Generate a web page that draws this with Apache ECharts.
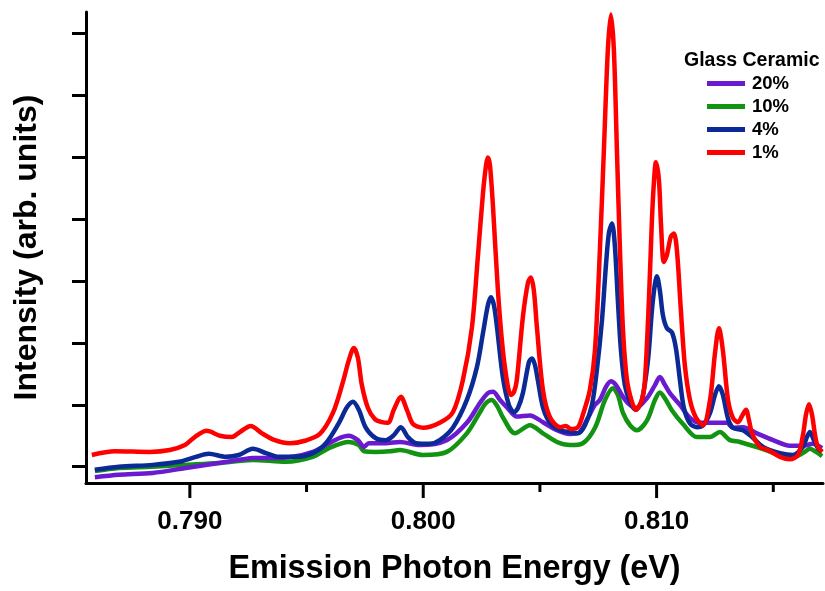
<!DOCTYPE html>
<html>
<head>
<meta charset="utf-8">
<script src="https://cdn.jsdelivr.net/npm/echarts@6/dist/echarts.min.js"></script>
<style>html,body{margin:0;padding:0;background:#fff}#chart{width:825px;height:591px}</style>
</head>
<body>
<div id="chart"></div>
<script>
// Tick labels / tick positions
var majorTicks = [0.790, 0.800, 0.810];
var minorTicks = [0.795, 0.805, 0.815];
var yTicks = [0, 1, 2, 3, 4, 5, 6, 7];

// 1% series (red)
var redE = [0.78580,0.78679,0.78829,0.78914,0.78979,0.79021,0.79073,0.79129,0.79180,0.79214,0.79261,0.79309,0.79364,0.79429,0.79493,0.79557,0.79613,0.79656,0.79681,0.79703,0.79720,0.79737,0.79763,0.79793,0.79823,0.79849,0.79874,0.79904,0.79930,0.79956,0.79999,0.80071,0.80127,0.80170,0.80209,0.80234,0.80256,0.80269,0.80277,0.80286,0.80299,0.80320,0.80341,0.80363,0.80376,0.80389,0.80401,0.80427,0.80449,0.80461,0.80474,0.80487,0.80513,0.80543,0.80586,0.80611,0.80633,0.80663,0.80684,0.80714,0.80736,0.80757,0.80774,0.80791,0.80804,0.80817,0.80830,0.80843,0.80856,0.80873,0.80894,0.80911,0.80937,0.80950,0.80967,0.80980,0.80989,0.80997,0.81010,0.81019,0.81031,0.81044,0.81061,0.81074,0.81087,0.81104,0.81121,0.81143,0.81169,0.81199,0.81229,0.81250,0.81267,0.81284,0.81306,0.81327,0.81349,0.81366,0.81383,0.81396,0.81409,0.81443,0.81477,0.81529,0.81571,0.81606,0.81627,0.81640,0.81653,0.81666,0.81679,0.81691,0.81709];
var redI = [0.19,0.25,0.24,0.27,0.35,0.48,0.58,0.50,0.48,0.56,0.66,0.54,0.43,0.38,0.42,0.53,0.87,1.37,1.72,1.92,1.76,1.32,0.95,0.77,0.72,0.71,0.92,1.13,0.92,0.69,0.63,0.71,0.88,1.40,2.26,3.39,4.42,4.87,5.00,4.87,4.20,2.85,1.89,1.29,1.16,1.21,1.40,2.42,2.98,3.06,2.85,2.26,1.24,0.80,0.64,0.66,0.61,0.64,0.84,1.24,1.89,3.50,5.11,6.73,7.31,6.73,5.11,3.50,2.21,1.40,1.05,0.92,1.08,1.40,2.69,3.99,4.63,4.92,4.63,3.90,3.31,3.42,3.72,3.77,3.50,2.53,1.64,1.08,0.79,0.67,1.08,1.83,2.24,1.88,1.08,0.79,0.72,0.82,0.92,0.75,0.54,0.32,0.27,0.16,0.12,0.19,0.51,0.84,1.01,0.84,0.51,0.32,0.24];

// 4% series (blue)
var blueE = [0.78593,0.78696,0.78841,0.78953,0.79026,0.79081,0.79154,0.79210,0.79270,0.79326,0.79381,0.79454,0.79527,0.79583,0.79639,0.79673,0.79699,0.79724,0.79754,0.79797,0.79840,0.79874,0.79904,0.79934,0.79969,0.80029,0.80071,0.80127,0.80187,0.80230,0.80256,0.80277,0.80290,0.80303,0.80316,0.80341,0.80367,0.80389,0.80406,0.80427,0.80453,0.80466,0.80479,0.80491,0.80513,0.80543,0.80586,0.80629,0.80663,0.80693,0.80723,0.80744,0.80766,0.80783,0.80796,0.80809,0.80821,0.80834,0.80847,0.80864,0.80886,0.80911,0.80937,0.80963,0.80980,0.80993,0.81001,0.81014,0.81027,0.81044,0.81066,0.81083,0.81100,0.81117,0.81143,0.81173,0.81199,0.81229,0.81250,0.81267,0.81284,0.81306,0.81327,0.81370,0.81409,0.81456,0.81529,0.81584,0.81627,0.81644,0.81657,0.81674,0.81691,0.81709];
var blueI = [-0.05,0.00,0.03,0.08,0.16,0.21,0.16,0.19,0.29,0.22,0.16,0.16,0.22,0.38,0.71,0.96,1.05,0.92,0.63,0.46,0.43,0.51,0.64,0.48,0.38,0.37,0.43,0.63,1.08,1.61,2.16,2.61,2.74,2.61,2.26,1.45,1.00,0.88,0.95,1.19,1.69,1.75,1.64,1.40,0.96,0.71,0.59,0.56,0.54,0.67,1.00,1.56,2.37,3.26,3.79,3.93,3.58,2.69,1.89,1.32,1.05,0.92,1.08,1.72,2.53,2.96,3.08,2.85,2.45,2.24,2.17,1.91,1.40,0.95,0.70,0.64,0.67,0.87,1.16,1.30,1.16,0.78,0.63,0.59,0.48,0.32,0.22,0.19,0.32,0.48,0.56,0.43,0.30,0.24];

// 20% series (purple)
var purpleE = [0.78593,0.78696,0.78841,0.78983,0.79124,0.79227,0.79270,0.79356,0.79441,0.79527,0.79583,0.79639,0.79681,0.79720,0.79746,0.79767,0.79840,0.79900,0.79986,0.80101,0.80187,0.80243,0.80277,0.80299,0.80329,0.80359,0.80401,0.80457,0.80513,0.80573,0.80629,0.80671,0.80706,0.80736,0.80757,0.80783,0.80804,0.80826,0.80851,0.80877,0.80911,0.80959,0.80993,0.81014,0.81036,0.81057,0.81100,0.81143,0.81186,0.81241,0.81301,0.81327,0.81370,0.81430,0.81499,0.81571,0.81627,0.81670,0.81709];
var purpleI = [-0.17,-0.13,-0.10,-0.02,0.06,0.12,0.14,0.14,0.16,0.24,0.35,0.46,0.50,0.43,0.32,0.38,0.38,0.40,0.35,0.43,0.71,1.03,1.19,1.21,1.08,0.96,0.81,0.83,0.72,0.59,0.53,0.56,0.79,1.00,1.08,1.29,1.38,1.32,1.16,1.03,0.95,1.11,1.32,1.45,1.32,1.19,1.00,0.79,0.71,0.71,0.71,0.63,0.64,0.54,0.43,0.34,0.34,0.37,0.30];

// 10% series (green)
var greenE = [0.78593,0.78696,0.78841,0.78983,0.79124,0.79270,0.79411,0.79527,0.79596,0.79681,0.79724,0.79746,0.79797,0.79857,0.79900,0.79999,0.80101,0.80187,0.80243,0.80269,0.80294,0.80320,0.80341,0.80393,0.80457,0.80513,0.80573,0.80629,0.80684,0.80736,0.80779,0.80813,0.80834,0.80856,0.80886,0.80916,0.80959,0.80993,0.81014,0.81040,0.81066,0.81113,0.81173,0.81229,0.81271,0.81314,0.81357,0.81443,0.81529,0.81584,0.81627,0.81657,0.81683,0.81709];
var greenI = [-0.07,-0.02,0.00,0.03,0.06,0.11,0.08,0.16,0.30,0.40,0.35,0.25,0.24,0.25,0.27,0.19,0.24,0.54,0.88,1.03,1.08,0.96,0.80,0.54,0.67,0.54,0.40,0.35,0.38,0.63,1.08,1.27,1.16,0.87,0.67,0.59,0.75,1.08,1.20,1.08,0.91,0.69,0.48,0.48,0.56,0.43,0.40,0.30,0.19,0.15,0.22,0.29,0.24,0.17];

var seriesNames = ['20%', '10%', '4%', '1%'];
var seriesColors = {'20%': '#6a1bcf', '10%': '#129412', '4%': '#0b2a96', '1%': '#ff0000'};

var FONT = 'Liberation Sans, Arial, sans-serif';
var xMin = 0.78555, xMax = 0.81713, yMin = -0.263, yMax = 7.35;

function pairs(xs, ys) { return xs.map(function (x, i) { return [x, ys[i]]; }); }
function mkSeries(name, xs, ys, z) {
  return {
    name: name, type: 'line', data: pairs(xs, ys), showSymbol: false, symbol: 'none',
    smooth: 0.3, clip: false, z: z,
    lineStyle: {width: 4.5, color: seriesColors[name]}, itemStyle: {color: seriesColors[name]}
  };
}
// tick marks (and optional tick labels) below the x axis, placed via the axis scale
function tickSeries(values, len, withLabel) {
  return {
    type: 'custom', silent: true, z: 100, clip: false,
    data: values.map(function (v) { return [v, yMin]; }),
    encode: {x: 0, y: 1},
    renderItem: function (params, api) {
      var v = api.value(0);
      var p = api.coord([v, api.value(1)]);
      var children = [{type: 'rect', shape: {x: p[0] - 1.5, y: p[1], width: 3, height: len},
        style: {fill: '#000'}}];
      if (withLabel) {
        children.push({type: 'text', x: p[0], y: p[1] + 26,
          style: {text: v.toFixed(3), fill: '#000', align: 'center', verticalAlign: 'top',
            font: 'bold 26px ' + FONT}});
      }
      return {type: 'group', children: children};
    }
  };
}

var chart = echarts.init(document.getElementById('chart'));
chart.setOption({
  animation: false,
  backgroundColor: '#ffffff',
  textStyle: {fontFamily: FONT},
  title: {text: 'Glass Ceramic', left: 684, top: 51, padding: 0,
    textStyle: {fontSize: 19.5, fontWeight: 'bold', color: '#000', fontFamily: FONT}},
  legend: {
    data: seriesNames, orient: 'vertical', left: 707, top: 74, padding: 0,
    itemWidth: 38, itemHeight: 5, itemGap: 4, icon: 'rect',
    textStyle: {fontSize: 18.5, fontWeight: 'bold', color: '#000', lineHeight: 18, padding: [0, 0, 0, 2],
      fontFamily: FONT}
  },
  grid: {left: 86, right: 2, top: 12, bottom: 108, containLabel: false},
  xAxis: {
    type: 'value', min: xMin, max: xMax, position: 'bottom',
    name: 'Emission Photon Energy (eV)', nameLocation: 'middle', nameGap: 70,
    nameTextStyle: {fontSize: 32.3, fontWeight: 'bold', color: '#000', fontFamily: FONT},
    axisLine: {show: true, onZero: false, lineStyle: {color: '#000', width: 3}},
    axisTick: {show: false},
    axisLabel: {show: false},
    splitLine: {show: false}
  },
  yAxis: {
    type: 'value', min: yMin, max: yMax,
    name: 'Intensity (arb. units)', nameLocation: 'middle', nameGap: 43,
    nameTextStyle: {fontSize: 32, fontWeight: 'bold', color: '#000', fontFamily: FONT},
    axisLine: {show: true, onZero: false, lineStyle: {color: '#000', width: 3}},
    axisTick: {show: true, customValues: yTicks, length: 14, lineStyle: {color: '#000', width: 3}},
    axisLabel: {show: false, customValues: yTicks},
    splitLine: {show: false}
  },
  series: [
    mkSeries('10%', greenE, greenI, 2),
    mkSeries('20%', purpleE, purpleI, 3),
    mkSeries('4%', blueE, blueI, 4),
    mkSeries('1%', redE, redI, 5),
    tickSeries(majorTicks, 15, true),
    tickSeries(minorTicks, 9, false)
  ]
});
</script>
</body>
</html>
